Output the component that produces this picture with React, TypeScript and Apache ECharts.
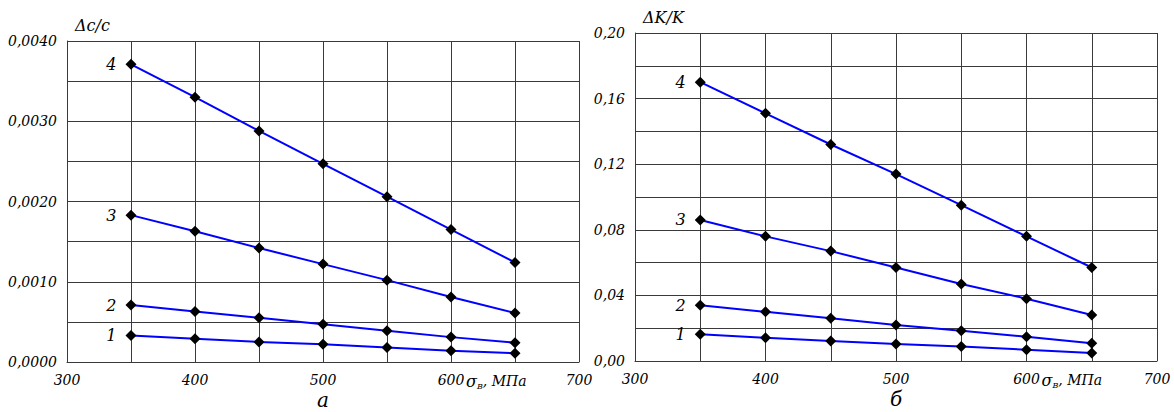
import React, { useEffect, useRef } from "react";
import * as echarts from "echarts";

const xValues = [350, 400, 450, 500, 550, 600, 650];
const seriesNames = ["1", "2", "3", "4"];

// Left chart: Δc/c
const leftS1 = [0.00033, 0.00029, 0.00025, 0.00022, 0.00018, 0.00014, 0.00011];
const leftS2 = [0.00071, 0.00063, 0.00055, 0.00047, 0.00039, 0.00031, 0.00024];
const leftS3 = [0.00183, 0.00163, 0.00142, 0.00122, 0.00102, 0.00081, 0.00061];
const leftS4 = [0.00371, 0.0033, 0.00288, 0.00247, 0.00206, 0.00165, 0.00124];

// Right chart: ΔK/K
const rightS1 = [0.0163, 0.0142, 0.0122, 0.0103, 0.0088, 0.0069, 0.0049];
const rightS2 = [0.034, 0.030, 0.026, 0.022, 0.0185, 0.0148, 0.0108];
const rightS3 = [0.086, 0.076, 0.067, 0.057, 0.047, 0.038, 0.028];
const rightS4 = [0.170, 0.151, 0.132, 0.114, 0.095, 0.076, 0.057];

const leftTitle = "Δc/c";
const rightTitle = "ΔK/K";
const panelLetters = ["а", "б"];

const FONT = "DejaVu Serif";
const GRID_COLOR = "#3a3a3a";

function makeSeries(arrs: number[][], gridIdx: number) {
  return arrs.map((arr, si) => ({
    type: "line",
    name: seriesNames[si] + "_" + gridIdx,
    xAxisIndex: gridIdx,
    yAxisIndex: gridIdx,
    symbol: "diamond",
    symbolSize: 11,
    itemStyle: { color: "#000" },
    lineStyle: { color: "#0000ff", width: 2 },
    z: 5,
    data: arr.map((v, i) => ({
      value: [xValues[i], v],
      label:
        i === 0
          ? {
              show: true,
              position: "left",
              distance: 9,
              formatter: seriesNames[si],
              fontFamily: FONT,
              fontStyle: "italic",
              fontSize: 16,
              color: "#000",
            }
          : { show: false },
    })),
  }));
}

function xAxis(gridIndex: number) {
  return {
    type: "value",
    gridIndex,
    min: 300,
    max: 700,
    interval: 50,
    axisLine: { show: true, lineStyle: { color: GRID_COLOR, width: 1 } },
    axisTick: { show: false },
    axisLabel: {
      margin: 11,
      fontFamily: FONT,
      fontStyle: "italic",
      fontSize: 14,
      color: "#000",
      showMinLabel: true,
      showMaxLabel: true,
      formatter: (v: number) => (Math.round(v) % 100 === 0 ? String(Math.round(v)) : ""),
    },
    splitLine: { show: true, lineStyle: { color: GRID_COLOR, width: 1 } },
  };
}

function yAxis(gridIndex: number, max: number, interval: number, digits: number, name: string) {
  return {
    type: "value",
    gridIndex,
    min: 0,
    max,
    interval,
    name,
    nameLocation: "end",
    nameGap: 8,
    nameTextStyle: {
      align: "left",
      padding: [0, 0, 0, 8],
      fontFamily: FONT,
      fontStyle: "italic",
      fontSize: 16,
      color: "#000",
    },
    axisLine: { show: true, lineStyle: { color: GRID_COLOR, width: 1 } },
    axisTick: { show: false },
    axisLabel: {
      margin: 10,
      fontFamily: FONT,
      fontStyle: "italic",
      fontSize: 14,
      color: "#000",
      formatter: (v: number) =>
        Math.round(v / interval) % 2 === 0 ? v.toFixed(digits).replace(".", ",") : "",
    },
    splitLine: { show: true, lineStyle: { color: GRID_COLOR, width: 1 } },
  };
}

export default function App() {
  const ref = useRef<HTMLDivElement>(null);

  useEffect(() => {
    if (!ref.current) return;
    const chart = echarts.init(ref.current, undefined, { renderer: "svg" });
    chart.setOption({
      animation: false,
      backgroundColor: "#fff",
      grid: [
        { left: 67, right: 595, top: 41, bottom: 50 },
        { left: 635, right: 17, top: 33, bottom: 51 },
      ],
      xAxis: [xAxis(0), xAxis(1)],
      yAxis: [
        yAxis(0, 0.004, 0.0005, 4, leftTitle),
        yAxis(1, 0.2, 0.02, 2, rightTitle),
      ],
      series: [
        ...makeSeries([leftS1, leftS2, leftS3, leftS4], 0),
        ...makeSeries([rightS1, rightS2, rightS3, rightS4], 1),
      ],
    });

    const graphics: any[] = [];
    [0, 1].forEach((g) => {
      const p600 = chart.convertToPixel({ gridIndex: g }, [600, 0]) as number[];
      const p500 = chart.convertToPixel({ gridIndex: g }, [500, 0]) as number[];
      graphics.push({
        type: "text",
        x: p600[0] + 15,
        y: p600[1] + 19,
        style: {
          text: "{s|σ}{b|B}{t|, МПа}",
          verticalAlign: "middle",
          rich: {
            s: { fontFamily: FONT, fontStyle: "italic", fontSize: 16, fill: "#000", lineHeight: 18 },
            b: {
              fontFamily: FONT,
              fontStyle: "italic",
              fontSize: 8,
              fill: "#000",
              verticalAlign: "bottom",
              lineHeight: 7,
            },
            t: { fontFamily: FONT, fontStyle: "italic", fontSize: 14, fill: "#000", lineHeight: 18 },
          },
        },
      });
      graphics.push({
        type: "text",
        x: p500[0],
        y: p500[1] + 38,
        style: {
          text: panelLetters[g],
          align: "center",
          verticalAlign: "middle",
          fontFamily: FONT,
          fontStyle: "italic",
          fontSize: 20,
          fill: "#000",
        },
      });
    });
    chart.setOption({ graphic: graphics });

    return () => chart.dispose();
  }, []);

  return (
    <div
      ref={ref}
      style={{ position: "fixed", left: 0, top: 0, width: 1174, height: 412, background: "#fff" }}
    />
  );
}
